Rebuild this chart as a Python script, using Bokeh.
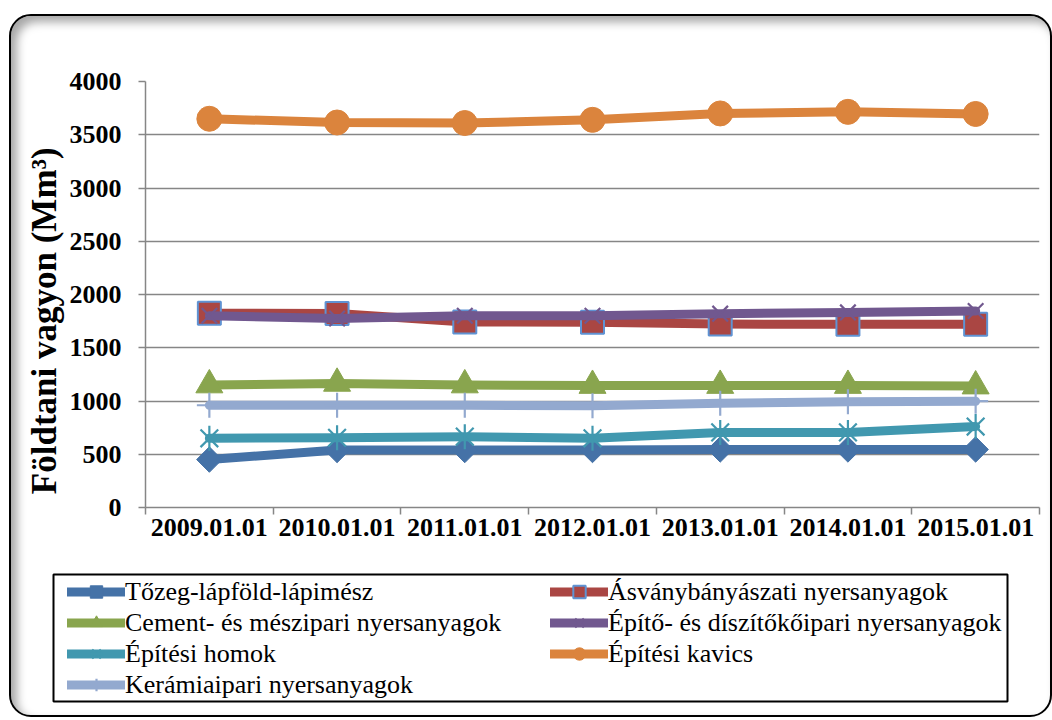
import math
from bokeh.plotting import figure
from bokeh.layouts import column
from bokeh.models import (Range1d, FixedTicker, Legend, LegendItem, ColumnDataSource)
from bokeh.embed import file_html
from bokeh.resources import INLINE

# ---- data ----
dates = ["2009.01.01", "2010.01.01", "2011.01.01", "2012.01.01",
         "2013.01.01", "2014.01.01", "2015.01.01"]
tozeg = [450, 540, 540, 540, 545, 545, 545]
asvany = [1825, 1822, 1742, 1740, 1722, 1720, 1720]
cement = [1150, 1165, 1150, 1145, 1145, 1145, 1140]
epito = [1800, 1775, 1800, 1800, 1820, 1832, 1845]
homok = [650, 655, 665, 650, 705, 705, 760]
kavics = [3650, 3615, 3610, 3640, 3700, 3715, 3695]
keramia = [960, 960, 960, 955, 980, 992, 998]
y_ticks = [0, 500, 1000, 1500, 2000, 2500, 3000, 3500, 4000]

names = ["Tőzeg-lápföld-lápimész", "Ásványbányászati nyersanyagok",
         "Cement- és mészipari nyersanyagok", "Építő- és díszítőkőipari nyersanyagok",
         "Építési homok", "Építési kavics", "Kerámiaipari nyersanyagok"]
series = [tozeg, asvany, cement, epito, homok, kavics, keramia]

xs = [i + 0.5 for i in range(len(dates))]
FONT = "Liberation Serif, Times New Roman, serif"
GRAY = "#868686"

# ---------- main chart ----------
p = figure(width=1039, height=543, output_backend="svg", toolbar_location=None,
           x_range=Range1d(0, len(dates)), y_range=Range1d(0, 4000),
           min_border_left=134, min_border_right=11, min_border_top=65,
           min_border_bottom=52, outline_line_color=None,
           border_fill_color=None, background_fill_color=None,
           frame_align=False)

xa = p.xaxis[0]
xa.ticker = FixedTicker(ticks=xs, minor_ticks=list(range(len(dates) + 1)))
xa.major_label_overrides = {x: d for x, d in zip(xs, dates)}
xa.major_tick_out = 0
xa.major_tick_in = 0
xa.minor_tick_out = 7
xa.minor_tick_in = 0
xa.minor_tick_line_color = GRAY
xa.minor_tick_line_width = 1.5
xa.axis_line_color = GRAY
xa.axis_line_width = 1.5
xa.major_label_text_font = FONT
xa.major_label_text_font_style = "bold"
xa.major_label_text_font_size = "26px"
xa.major_label_text_color = "black"
xa.major_label_standoff = 4

ya = p.yaxis[0]
ya.ticker = FixedTicker(ticks=y_ticks, minor_ticks=[])
ya.major_tick_out = 7
ya.major_tick_in = 0
ya.major_tick_line_color = GRAY
ya.major_tick_line_width = 1.5
ya.axis_line_color = GRAY
ya.axis_line_width = 1.5
ya.major_label_text_font = FONT
ya.major_label_text_font_style = "bold"
ya.major_label_text_font_size = "26px"
ya.major_label_text_color = "black"
ya.major_label_standoff = 17
ya.axis_label = "Földtani vagyon (Mm³)" + "\u00a0" * 6
ya.axis_label_text_font = FONT
ya.axis_label_text_font_style = "bold"
ya.axis_label_text_font_size = "35px"
ya.axis_label_text_color = "black"
ya.axis_label_standoff = 3

p.xgrid.grid_line_color = None
p.ygrid.grid_line_color = GRAY
p.ygrid.grid_line_width = 1.5

# ---------- legend panel ----------
lf = figure(width=1039, height=156, output_backend="svg", toolbar_location=None,
            x_range=Range1d(100, 101), y_range=Range1d(100, 101),
            x_axis_type=None, y_axis_type=None,
            min_border_left=42, min_border_right=43, min_border_top=15,
            min_border_bottom=14, outline_line_color="black", outline_line_width=2,
            border_fill_color=None, background_fill_color="white",
            frame_align=False)
lf.grid.visible = False

colors = ["#4572a7", "#aa4643", "#89a54e", "#71588f", "#4198af", "#db843d", "#93a9cf"]
markers = ["square", "square", "triangle", "x", "star6", "circle", "cross"]
msizes = [18, 23, 27, 22, 25, 25, 25]
angles = [math.pi / 4, 0, 0, 0, 0, 0, 0]


def draw(fig, name, vals, c, m, s, a):
    src = ColumnDataSource(dict(x=xs, y=vals))
    rs = [fig.line("x", "y", source=src, line_color=c, line_width=9,
                   line_join="round", line_cap="round")]
    if m == "star6":
        # Excel "star" marker: an x with a vertical stroke
        rs.append(fig.scatter("x", "y", source=src, marker="x", size=s,
                              line_color=c, line_width=2.2))
        rs.append(fig.scatter("x", "y", source=src, marker="dash", size=s,
                              angle=math.pi / 2, line_color=c, line_width=2.2))
    elif m in ("x", "cross"):
        rs.append(fig.scatter("x", "y", source=src, marker=m, size=s, line_color=c,
                              line_width=2.2))
    elif m == "square" and name.startswith("Ásvány"):
        rs.append(fig.scatter("x", "y", source=src, marker=m, size=s, fill_color=c,
                              line_color="#5f93d3", line_width=2))
    else:
        rs.append(fig.scatter("x", "y", source=src, marker=m, size=s, angle=a,
                              fill_color=c, line_color=c, line_width=1))
    return rs


items = []
for name, vals, c, m, s, a in zip(names, series, colors, markers, msizes, angles):
    draw(p, name, vals, c, m, s, a)
    rs = draw(lf, name, vals, c, m, s, a)
    items.append(LegendItem(label=name, renderers=rs))

legend = Legend(items=items, ncols=2, orientation="horizontal",
                location=(14, 1),
                label_text_font=FONT, label_text_font_size="26px",
                label_text_color="black",
                glyph_width=58, glyph_height=31, label_height=31, label_width=425,
                label_standoff=0, padding=0, spacing=0, margin=0,
                border_line_color=None, background_fill_alpha=0)
lf.add_layout(legend, "center")

layout = column(p, lf, spacing=0)
layout.styles = {"border": "2px solid black", "border-radius": "22px",
                 "box-shadow": "inset 6px 6px 10px rgba(0,0,0,0.35)",
                 "background": "white", "box-sizing": "border-box",
                 "margin-left": "9px", "margin-top": "14px",
                 "width": "1043px", "height": "703px"}

open("out.html", "w").write(file_html(layout, INLINE))
